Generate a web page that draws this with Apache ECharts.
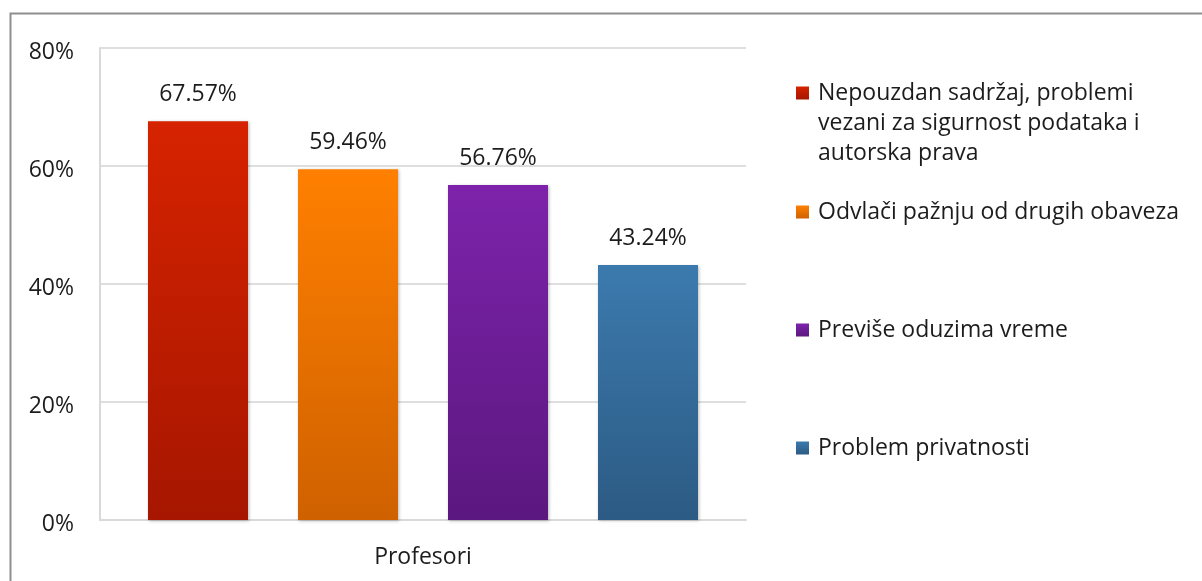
<!DOCTYPE html>
<html>
<head>
<meta charset="utf-8">
<title>Profesori</title>
<script src="https://cdn.jsdelivr.net/npm/echarts@6/dist/echarts.min.js"></script>
<style>
  html, body { margin: 0; padding: 0; background: #ffffff; }
  #chart { width: 1202px; height: 581px; }
</style>
</head>
<body>
<div id="chart"></div>
<script>
// Categories and series
const categories = ['Profesori'];
const seriesNames = [
  'Nepouzdan sadržaj, problemi\nvezani za sigurnost podataka i\nautorska prava',
  'Odvlači pažnju od drugih obaveza',
  'Previše oduzima vreme',
  'Problem privatnosti'
];
const seriesValues = [
  [67.57],
  [59.46],
  [56.76],
  [43.24]
];
const yTicks = [0, 20, 40, 60, 80];

// Bar fills: lighter at the top, darker at the base
const barColors = [
  ['#d62300', '#a61600'],
  ['#ff8000', '#cf6100'],
  ['#7d23ab', '#5b187f'],
  ['#3c7aae', '#2c5b84']
];
// Vertical centre (px) of each legend entry's marker / first text line
const legendCenters = [93, 212, 330, 448];

const FONT = '"Open Sans", "Noto Sans", sans-serif';
const TEXT = '#1c1c1c';
const FS = 23;
const LH = 30;

function grad(c) {
  return new echarts.graphic.LinearGradient(0, 0, 0, 1, [
    { offset: 0, color: c[0] },
    { offset: 1, color: c[1] }
  ]);
}

const series = seriesNames.map((name, i) => ({
  name: name,
  type: 'bar',
  data: seriesValues[i],
  barWidth: 100,
  barGap: '50%',
  itemStyle: {
    color: grad(barColors[i]),
    shadowColor: 'rgba(0,0,0,0.28)',
    shadowBlur: 3,
    shadowOffsetX: 1,
    shadowOffsetY: 1
  },
  label: {
    show: true,
    position: 'top',
    distance: 15,
    formatter: p => p.value.toFixed(2) + '%',
    color: TEXT,
    fontFamily: FONT,
    fontSize: FS
  }
}));

// One legend per entry so each can sit at its own height. A multi-line
// entry gets blank lines above it so its marker lines up with the first line.
const legends = seriesNames.map((name, i) => {
  const lines = name.split('\n').length;
  const pad = lines - 1;
  const total = lines + pad;
  return {
    data: [name],
    orient: 'vertical',
    left: 796,
    top: legendCenters[i] - (total * LH) / 2,
    padding: 0,
    itemWidth: 13,
    itemHeight: 13,
    itemGap: 0,
    icon: 'rect',
    selectedMode: false,
    formatter: n => '\n'.repeat(pad) + n,
    textStyle: {
      color: TEXT,
      fontFamily: FONT,
      fontSize: FS,
      lineHeight: LH,
      padding: [0, 0, 0, 4]
    }
  };
});

const chart = echarts.init(document.getElementById('chart'), null, { renderer: 'canvas' });
chart.setOption({
  animation: false,
  backgroundColor: '#ffffff',
  graphic: [{
    type: 'rect',
    shape: { x: 10.5, y: 13.5, width: 1400, height: 800 },
    style: { fill: 'none', stroke: '#8e8e8e', lineWidth: 2 },
    silent: true,
    z: 100
  }],
  grid: { left: 100, right: 456, top: 48, bottom: 61, containLabel: false },
  legend: legends,
  xAxis: {
    type: 'category',
    data: categories,
    axisLine: { show: true, lineStyle: { color: '#d9d9d9', width: 2 } },
    axisTick: { show: false },
    axisLabel: { color: TEXT, fontFamily: FONT, fontSize: FS, margin: 26 }
  },
  yAxis: {
    type: 'value',
    min: yTicks[0],
    max: yTicks[yTicks.length - 1],
    interval: yTicks[1] - yTicks[0],
    axisLine: { show: true, lineStyle: { color: '#d9d9d9', width: 2 } },
    axisTick: { show: false },
    splitLine: { show: true, lineStyle: { color: '#dedede', width: 2 } },
    axisLabel: {
      margin: 26,
      formatter: v => '{t|' + v + '%}',
      rich: {
        t: {
          color: TEXT, fontFamily: FONT, fontSize: FS,
          padding: [8, 0, 0, 0]
        }
      }
    }
  },
  series: series
});
</script>
</body>
</html>
